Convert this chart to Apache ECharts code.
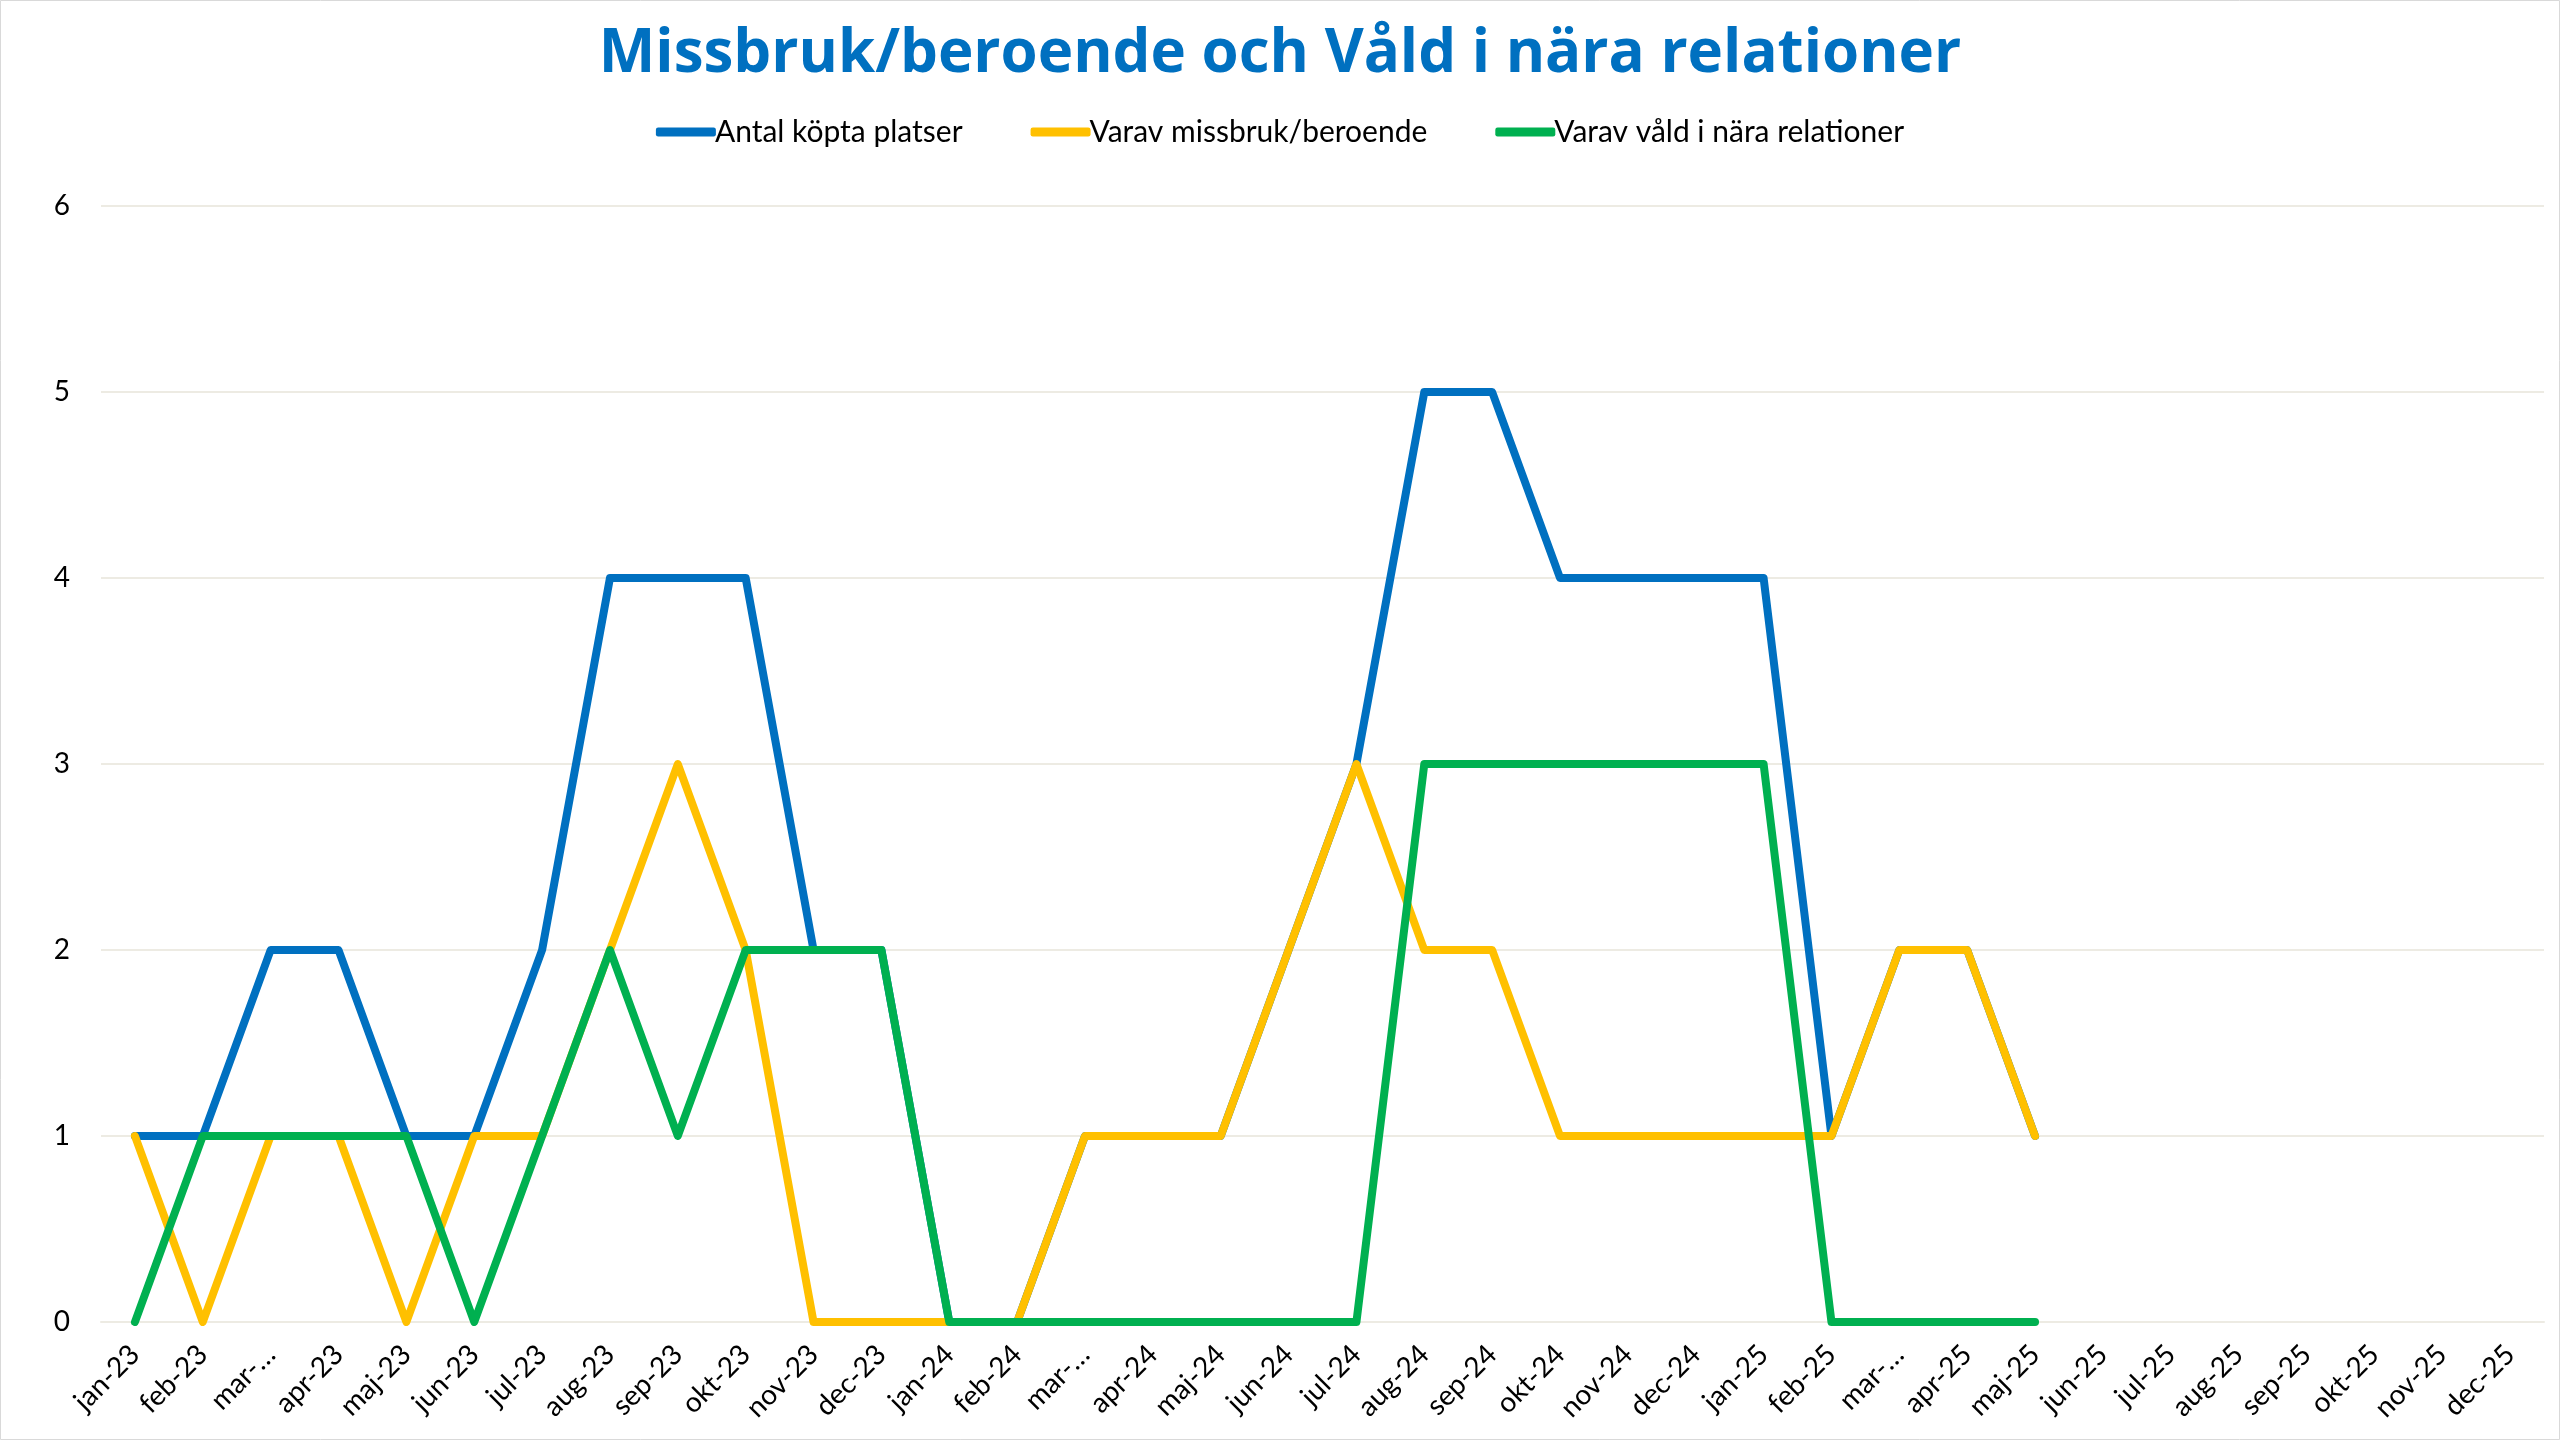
<!DOCTYPE html>
<html><head><meta charset="utf-8">
<script src="https://cdn.jsdelivr.net/npm/echarts@6/dist/echarts.min.js"></script>
<style>html,body{margin:0;padding:0;background:#fff}#c{width:2560px;height:1440px}</style>
</head><body><div id="c"></div>
<script>
const titleText = 'Missbruk/beroende och Våld i nära relationer';
const categories = ['jan-23','feb-23','mars-23','apr-23','maj-23','jun-23','jul-23','aug-23','sep-23','okt-23','nov-23','dec-23',
  'jan-24','feb-24','mars-24','apr-24','maj-24','jun-24','jul-24','aug-24','sep-24','okt-24','nov-24','dec-24',
  'jan-25','feb-25','mars-25','apr-25','maj-25','jun-25','jul-25','aug-25','sep-25','okt-25','nov-25','dec-25'];
const seriesNames = ['Antal köpta platser','Varav missbruk/beroende','Varav våld i nära relationer'];
const antal  = [1,1,2,2,1,1,2,4,4,4,2,2, 0,0,1,1,1,2,3,5,5,4,4,4, 4,1,2,2,1,null,null,null,null,null,null,null];
const missbruk = [1,0,1,1,0,1,1,2,3,2,0,0, 0,0,1,1,1,2,3,2,2,1,1,1, 1,1,2,2,1,null,null,null,null,null,null,null];
const vald   = [0,1,1,1,1,0,1,2,1,2,2,2, 0,0,0,0,0,0,0,3,3,3,3,3, 3,0,0,0,0,null,null,null,null,null,null,null];
const yTicks = [0,1,2,3,4,5,6];
const colors = ['#0070C0','#FFC000','#00B050'];

const chart = echarts.init(document.getElementById('c'));
const font = 'Lato, "Noto Sans", sans-serif';
chart.setOption({
  animation:false,
  backgroundColor:'#fff',
  graphic:[{type:'rect',shape:{x:0.5,y:0.5,width:2559,height:1439},style:{fill:null,stroke:'#D9D9D9',lineWidth:1}}],
  title:{text:titleText,left:'center',top:20,textStyle:{color:'#0070C0',fontSize:60,fontWeight:'bold',fontFamily:'"Open Sans", "Noto Sans", sans-serif'}},
  legend:{top:112,left:'center',itemWidth:60,itemHeight:9,itemGap:68,icon:'roundRect',
    textStyle:{fontSize:30,color:'#000',fontFamily:font,padding:[0,0,0,-6]},data:seriesNames},
  grid:{left:101,right:16,top:206,bottom:118,containLabel:false},
  xAxis:{type:'category',data:categories,boundaryGap:true,
    axisLine:{show:true,lineStyle:{color:'#EDEBE3',width:2}},axisTick:{show:false},
    axisLabel:{rotate:45,fontSize:28,color:'#000',fontFamily:font,margin:28,interval:0,
      formatter:v=>v.length>6?v.slice(0,3)+'-…':v}},
  yAxis:{type:'value',min:yTicks[0],max:yTicks[yTicks.length-1],interval:1,
    axisLine:{show:false},axisTick:{show:false},
    splitLine:{lineStyle:{color:'#EDEBE3',width:2}},
    axisLabel:{fontSize:28,color:'#000',fontFamily:font,margin:31}},
  series:[
    {name:seriesNames[0],type:'line',data:antal,color:colors[0],showSymbol:false,lineStyle:{width:8,cap:'round',join:'round'}},
    {name:seriesNames[1],type:'line',data:missbruk,color:colors[1],showSymbol:false,lineStyle:{width:8,cap:'round',join:'round'}},
    {name:seriesNames[2],type:'line',data:vald,color:colors[2],showSymbol:false,lineStyle:{width:8,cap:'round',join:'round'}}
  ]
});
</script></body></html>
